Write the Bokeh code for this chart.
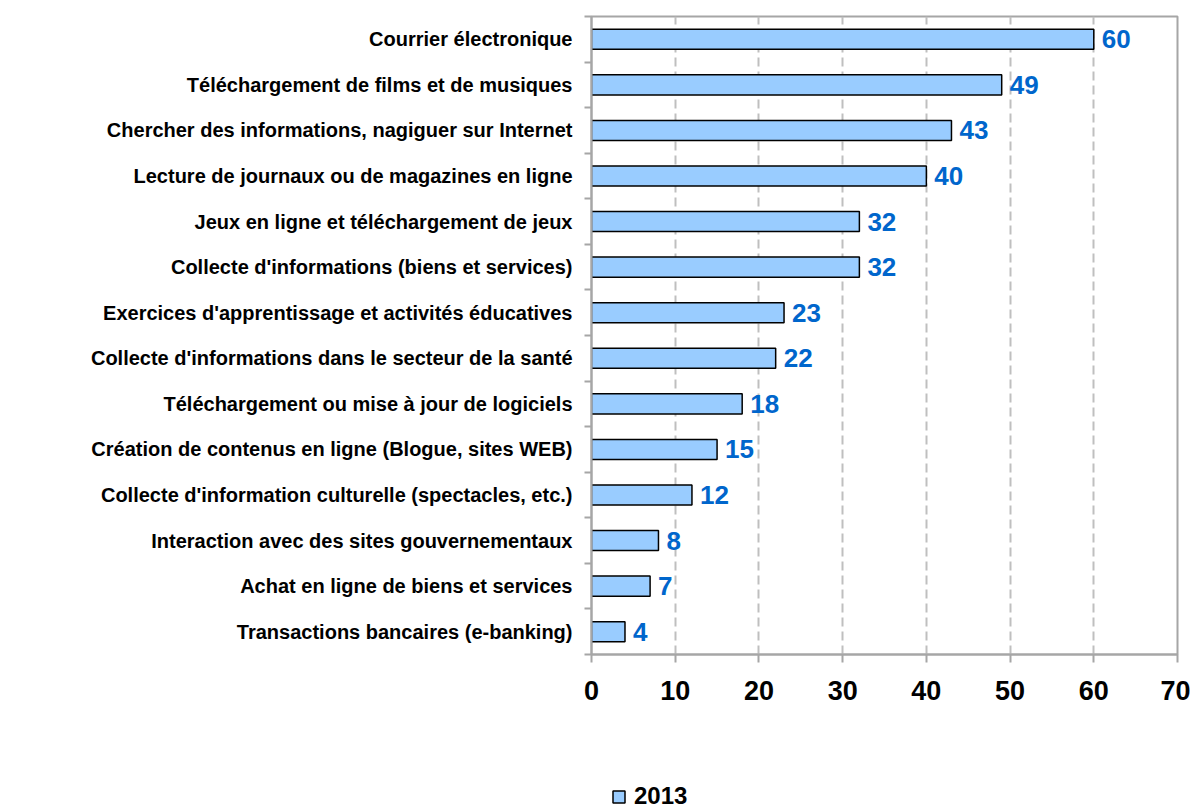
from bokeh.plotting import figure
from bokeh.layouts import column
from bokeh.models import ColumnDataSource, FixedTicker, Range1d, Legend, LegendItem
from bokeh.core.properties import value
from bokeh.embed import file_html
from bokeh.resources import INLINE

categories = [
    "Courrier électronique",
    "Téléchargement de films et de musiques",
    "Chercher des informations, nagiguer sur Internet",
    "Lecture de journaux ou de magazines en ligne",
    "Jeux en ligne et téléchargement de jeux",
    "Collecte d'informations (biens et services)",
    "Exercices d'apprentissage et activités éducatives",
    "Collecte d'informations dans le secteur de la santé",
    "Téléchargement ou mise à jour de logiciels",
    "Création de contenus en ligne (Blogue, sites WEB)",
    "Collecte d'information culturelle (spectacles, etc.)",
    "Interaction avec des sites gouvernementaux",
    "Achat en ligne de biens et services",
    "Transactions bancaires (e-banking)",
]
values_2013 = [60, 49, 43, 40, 32, 32, 23, 22, 18, 15, 12, 8, 7, 4]
x_ticks = [0, 10, 20, 30, 40, 50, 60, 70]
series_name = "2013"

n = len(categories)
ypos = [n - 0.5 - i for i in range(n)]
src = ColumnDataSource(dict(y=ypos, v=values_2013, lab=[str(v) for v in values_2013], cat=categories))

FONT = "Liberation Sans"
BAR_FILL = "#99CCFF"

p = figure(width=1190, height=720, output_backend="svg", toolbar_location=None,
           x_range=Range1d(0, 70), y_range=Range1d(0, n),
           min_border_left=591, min_border_right=13, min_border_top=16, min_border_bottom=66)
p.outline_line_color = "#A6A6A6"
p.outline_line_width = 2
p.background_fill_color = "white"
p.border_fill_color = "white"

bars = p.hbar(y="y", left=0, right="v", height=0.44, source=src,
              fill_color=BAR_FILL, line_color="black", line_width=1.5)

p.text(x="v", y="y", text="lab", source=src, x_offset=8,
       text_baseline="middle", text_align="left",
       text_font=value(FONT), text_font_style="bold", text_font_size="26px",
       text_color="#0066CC")

# x axis
p.xaxis.ticker = FixedTicker(ticks=x_ticks)
p.xaxis.axis_line_color = "#A6A6A6"
p.xaxis.axis_line_width = 2
p.xaxis.major_tick_line_color = "#A6A6A6"
p.xaxis.major_tick_line_width = 2
p.xaxis.major_tick_out = 8
p.xaxis.major_tick_in = 0
p.xaxis.minor_tick_line_color = None
p.xaxis.major_label_text_font = FONT
p.xaxis.major_label_text_font_style = "bold"
p.xaxis.major_label_text_font_size = "27px"
p.xaxis.major_label_text_color = "black"
p.xaxis.major_label_standoff = 18

# y axis
p.yaxis.ticker = FixedTicker(ticks=ypos, minor_ticks=list(range(n + 1)))
p.yaxis.major_label_overrides = {y: c for y, c in zip(ypos, categories)}
p.yaxis.axis_line_color = "#A6A6A6"
p.yaxis.axis_line_width = 2
p.yaxis.major_tick_line_color = None
p.yaxis.major_tick_out = 0
p.yaxis.major_tick_in = 0
p.yaxis.minor_tick_line_color = "#A6A6A6"
p.yaxis.minor_tick_line_width = 2
p.yaxis.minor_tick_out = 7
p.yaxis.minor_tick_in = 0
p.yaxis.major_label_text_font = FONT
p.yaxis.major_label_text_font_style = "bold"
p.yaxis.major_label_text_font_size = "20px"
p.yaxis.major_label_text_color = "black"
p.yaxis.major_label_standoff = 12

p.xgrid.grid_line_color = "#BFBFBF"
p.xgrid.grid_line_width = 2
p.xgrid.grid_line_dash = "9 5"
p.ygrid.grid_line_color = None

# legend strip below the chart (its frame is aligned with the chart's frame)
lf = figure(width=1190, height=90, output_backend="svg", toolbar_location=None,
            x_range=Range1d(0, 1), y_range=Range1d(0, 1),
            x_axis_location=None, y_axis_location=None,
            min_border=0, min_border_left=0, min_border_right=0,
            min_border_top=0, min_border_bottom=0)
lf.grid.visible = False
lf.outline_line_color = None
lf.background_fill_color = "white"
lf.border_fill_color = "white"
# a swatch renderer kept outside the visible range; only its legend glyph is seen
swatch = lf.quad(left=[-3], right=[-2], bottom=[-3], top=[-2], fill_color=BAR_FILL,
                 line_color="black", line_width=1.5)
legend = Legend(items=[LegendItem(label=series_name, renderers=[swatch])],
                location=(20, 0), orientation="horizontal",
                padding=0, margin=0, spacing=0,
                glyph_width=15, glyph_height=15, label_standoff=8,
                label_text_font=FONT, label_text_font_style="bold",
                label_text_font_size="24px", label_text_color="black",
                border_line_color=None, background_fill_alpha=0)
lf.add_layout(legend, "center")

layout = column(p, lf, spacing=0)
open("out.html", "w").write(file_html(layout, INLINE))
